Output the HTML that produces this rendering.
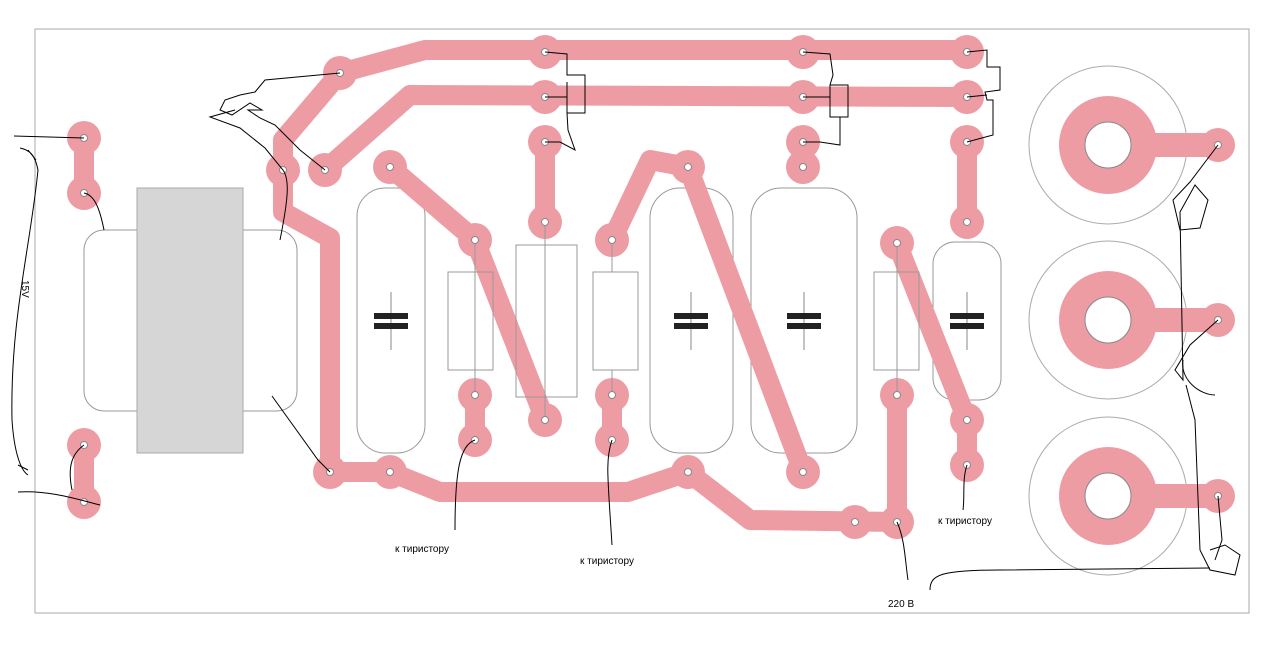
<!DOCTYPE html>
<html><head><meta charset="utf-8"><style>
html,body{margin:0;padding:0;background:#fff}
svg{display:block}
text{font-family:"Liberation Sans",sans-serif;font-size:10px;fill:#000}
</style></head><body>
<svg width="1280" height="647" viewBox="0 0 1280 647" xmlns="http://www.w3.org/2000/svg">
<rect x="35" y="29" width="1214" height="584" fill="#fff" stroke="#aaa" stroke-width="1"/>
<!-- component outlines -->
<g fill="#fff" stroke="#999" stroke-width="1">
<rect x="84" y="230" width="213" height="181" rx="20"/>
<rect x="357" y="188" width="68" height="265" rx="28"/>
<rect x="650" y="188" width="83" height="265" rx="30"/>
<rect x="751" y="188" width="106" height="265" rx="30"/>
<rect x="933" y="242" width="68" height="158" rx="22"/>
</g>
<rect x="137" y="188" width="106" height="265" fill="#d6d6d6" stroke="#aaa"/>
<!-- traces -->
<g fill="none" stroke="#ee9ca3" stroke-width="20" stroke-linejoin="round" stroke-linecap="round">
<polyline points="84,138 84,193"/>
<polyline points="84,445 84,502"/>
<polyline points="340,73 425,50 967,50"/>
<polyline points="340,73 283,140 283,212 330,238 330,472"/>
<polyline points="325,170 410,95 967,97"/>
<polyline points="330,472 390,472 440,492 628,492 688,472 750,520 897,522 897,395"/>
<polyline points="390,167 475,240 545,420"/>
<polyline points="475,395 475,440"/>
<polyline points="545,142 545,222"/>
<polyline points="612,240 650,160 688,167 803,472"/>
<polyline points="612,395 612,440"/>
<polyline points="803,142 803,167"/>
<polyline points="897,243 967,420 967,465"/>
<polyline points="967,142 967,222"/>
</g>
<!-- big pads -->
<g>
<g id="bp"><circle cx="1108" cy="145" r="79" fill="none" stroke="#aaa"/>
<rect x="1140" y="133" width="78" height="24" fill="#ee9ca3"/>
<circle cx="1108" cy="145" r="49" fill="#ee9ca3"/>
<circle cx="1108" cy="145" r="23" fill="#fff" stroke="#888"/>
<circle cx="1218" cy="145" r="17" fill="#ee9ca3"/>
<circle cx="1218" cy="145" r="3.5" fill="#fff" stroke="#888"/></g>
<use href="#bp" y="175"/>
<use href="#bp" y="351"/>
</g>
<!-- pads -->
<g fill="#ee9ca3">
<circle cx="84" cy="138" r="17"/><circle cx="84" cy="193" r="17"/><circle cx="84" cy="445" r="17"/><circle cx="84" cy="502" r="17"/>
<circle cx="340" cy="73" r="17"/><circle cx="325" cy="170" r="17"/><circle cx="283" cy="170" r="17"/><circle cx="330" cy="472" r="17"/>
<circle cx="390" cy="472" r="17"/><circle cx="390" cy="167" r="17"/><circle cx="475" cy="240" r="17"/><circle cx="475" cy="395" r="17"/><circle cx="475" cy="440" r="17"/>
<circle cx="545" cy="52" r="17"/><circle cx="545" cy="97" r="17"/><circle cx="545" cy="142" r="17"/><circle cx="545" cy="222" r="17"/><circle cx="545" cy="420" r="17"/>
<circle cx="612" cy="240" r="17"/><circle cx="612" cy="395" r="17"/><circle cx="612" cy="440" r="17"/>
<circle cx="688" cy="167" r="17"/><circle cx="688" cy="472" r="17"/>
<circle cx="803" cy="52" r="17"/><circle cx="803" cy="97" r="17"/><circle cx="803" cy="142" r="17"/><circle cx="803" cy="167" r="17"/><circle cx="803" cy="472" r="17"/>
<circle cx="855" cy="522" r="17"/><circle cx="897" cy="522" r="17"/><circle cx="897" cy="243" r="17"/><circle cx="897" cy="395" r="17"/>
<circle cx="967" cy="52" r="17"/><circle cx="967" cy="97" r="17"/><circle cx="967" cy="142" r="17"/><circle cx="967" cy="222" r="17"/><circle cx="967" cy="420" r="17"/><circle cx="967" cy="465" r="17"/>
</g>
<!-- resistors -->
<g fill="#fff" stroke="#999">
<line x1="475" y1="240" x2="475" y2="395"/><line x1="545" y1="222" x2="545" y2="420"/><line x1="612" y1="240" x2="612" y2="395"/><line x1="897" y1="243" x2="897" y2="395"/>
<rect x="448" y="272" width="45" height="98" fill="none"/>
<rect x="516" y="245" width="61" height="152" fill="none"/>
<rect x="593" y="272" width="45" height="98"/>
<rect x="874" y="272" width="45" height="98" fill="none"/>
</g>
<g fill="#fff" stroke="#888" stroke-width="1">
<circle cx="84" cy="138" r="3.5"/><circle cx="84" cy="193" r="3.5"/><circle cx="84" cy="445" r="3.5"/><circle cx="84" cy="502" r="3.5"/>
<circle cx="340" cy="73" r="3.5"/><circle cx="325" cy="170" r="3.5"/><circle cx="283" cy="170" r="3.5"/><circle cx="330" cy="472" r="3.5"/>
<circle cx="390" cy="472" r="3.5"/><circle cx="390" cy="167" r="3.5"/><circle cx="475" cy="240" r="3.5"/><circle cx="475" cy="395" r="3.5"/><circle cx="475" cy="440" r="3.5"/>
<circle cx="545" cy="52" r="3.5"/><circle cx="545" cy="97" r="3.5"/><circle cx="545" cy="142" r="3.5"/><circle cx="545" cy="222" r="3.5"/><circle cx="545" cy="420" r="3.5"/>
<circle cx="612" cy="240" r="3.5"/><circle cx="612" cy="395" r="3.5"/><circle cx="612" cy="440" r="3.5"/>
<circle cx="688" cy="167" r="3.5"/><circle cx="688" cy="472" r="3.5"/>
<circle cx="803" cy="52" r="3.5"/><circle cx="803" cy="97" r="3.5"/><circle cx="803" cy="142" r="3.5"/><circle cx="803" cy="167" r="3.5"/><circle cx="803" cy="472" r="3.5"/>
<circle cx="855" cy="522" r="3.5"/><circle cx="897" cy="522" r="3.5"/><circle cx="897" cy="243" r="3.5"/><circle cx="897" cy="395" r="3.5"/>
<circle cx="967" cy="52" r="3.5"/><circle cx="967" cy="97" r="3.5"/><circle cx="967" cy="142" r="3.5"/><circle cx="967" cy="222" r="3.5"/><circle cx="967" cy="420" r="3.5"/><circle cx="967" cy="465" r="3.5"/>
</g>
<!-- capacitor symbols -->
<g id="cs"><line x1="391" y1="292" x2="391" y2="350" stroke="#888"/>
<rect x="374" y="313" width="34" height="6" fill="#222"/><rect x="374" y="323" width="34" height="6" fill="#222"/></g>
<use href="#cs" x="300"/><use href="#cs" x="413"/><use href="#cs" x="576"/>
<!-- hand-drawn wires -->
<g fill="none" stroke="#000" stroke-width="1">
<path d="M14,136 L84,138"/><path d="M84,193 C95,195 100,210 104,230"/>
<path d="M84,445 C70,455 68,470 72,490"/><path d="M18,492 C50,490 80,500 100,505"/>
<path d="M20,148 C30,150 35,155 38,170 C30,250 10,320 12,420 C14,450 20,470 28,475"/>
<path d="M28,150 L36,160"/><path d="M18,465 L28,470"/>
<path d="M340,73 L265,80 L255,92 L240,95 L225,100 L220,110 L232,115 L250,103 L262,110 L248,110 L260,118 L275,125 L300,150 L325,170"/>
<path d="M235,110 L210,117 L240,128 L265,148 L283,170 C290,180 288,200 280,240"/>
<path d="M272,396 L318,460 L330,472"/>
<path d="M545,52 L567,54 L567,75 L585,75 L585,113 L567,113 L567,82"/><path d="M545,97 L567,97"/><path d="M567,113 L568,130 L575,150 L560,142 L545,142"/>
<path d="M803,52 L830,54 L833,75 L830,85 L848,85 L848,117 L830,117 L830,85"/><path d="M803,97 L830,97"/><path d="M840,117 L840,145 L820,142 L803,142"/>
<path d="M967,52 L987,50 L987,67 L1000,67 L1000,90 L985,92 L987,100 L993,100 L993,135 L967,142"/><path d="M967,97 L987,95"/>
<path d="M1218,145 L1190,182 L1173,200 L1180,230 L1200,228 L1208,200 L1195,185 L1180,212 L1183,380 L1175,370 L1190,345 L1218,320"/>
<path d="M1183,360 C1180,380 1200,395 1215,395"/><path d="M1186,385 L1195,420 L1200,550 L1210,570 L1235,575 L1240,555 L1225,545 L1210,550"/>
<path d="M1218,496 L1222,540 L1215,560"/><path d="M930,590 C930,575 940,570 1000,570 L1210,568"/>
<path d="M475,440 C460,445 455,470 455,530"/><path d="M612,440 C605,460 608,480 612,545"/>
<path d="M967,465 C962,480 965,495 963,510"/><path d="M897,522 C905,540 905,560 908,580"/>
</g>
<text x="395" y="552">к тиристору</text>
<text x="580" y="564">к тиристору</text>
<text x="938" y="524">к тиристору</text>
<text x="888" y="607">220 В</text>
<text x="22" y="280" transform="rotate(90 22 280)">15V</text>
</svg>
</body></html>
